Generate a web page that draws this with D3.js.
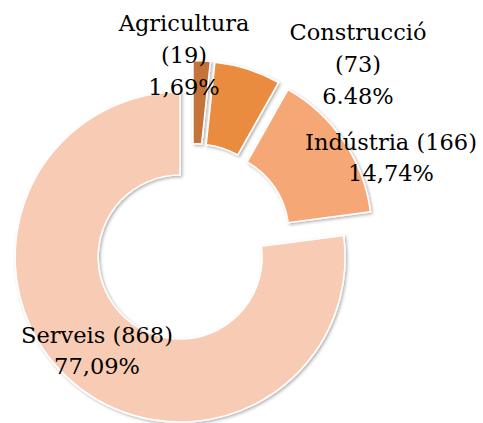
<!DOCTYPE html>
<html><head><meta charset="utf-8">
<script src="https://cdn.jsdelivr.net/npm/d3@7"></script>
<style>body{margin:0;background:#fff}svg{display:block}</style>
</head><body>
<script>
const categories = ["Agricultura", "Construcció", "Indústria", "Serveis"];
const values = [19, 73, 166, 868];
const percentLabels = ["1,69%", "6.48%", "14,74%", "77,09%"];
const colors = ["#C5733A", "#E98C3F", "#F5A876", "#F8CBB4"];

// label lines per slice
const labelLines = [
  [categories[0], `(${values[0]})`, percentLabels[0]],
  [categories[1], `(${values[1]})`, percentLabels[1]],
  [`${categories[2]} (${values[2]})`, percentLabels[2]],
  [`${categories[3]} (${values[3]})`, percentLabels[3]]
];
// label centre positions relative to chart centre (layout only)
const labelOffsets = [[-8, -189], [166, -180], [199, -86], [-95, 107]];

const W = 483, H = 423;
const cx = 192, cy = 243.5, R = 165, r = 82, explode = 18;

const svg = d3.select("body").append("svg").attr("width", W).attr("height", H);
const defs = svg.append("defs");
const f = defs.append("filter").attr("id", "sh").attr("x", "-20%").attr("y", "-20%").attr("width", "140%").attr("height", "140%");
f.append("feDropShadow").attr("dx", 1.5).attr("dy", 1.5).attr("stdDeviation", 1.5).attr("flood-color", "#000").attr("flood-opacity", 0.3);

const pie = d3.pie().sort(null).value(d => d)(values);
const arc = d3.arc().innerRadius(r).outerRadius(R);
const g = svg.append("g").attr("transform", `translate(${cx},${cy})`);

g.selectAll("path").data(pie).join("path")
  .attr("d", arc)
  .attr("fill", (d, i) => colors[i])
  .attr("stroke", "#fff").attr("stroke-width", 1.5)
  .attr("filter", "url(#sh)")
  .attr("transform", d => {
    const a = (d.startAngle + d.endAngle) / 2;
    return `translate(${explode * Math.sin(a)},${-explode * Math.cos(a)})`;
  });

const lh = 32;
labelLines.forEach((lines, i) => {
  const [dx, dy] = labelOffsets[i];
  const lhh = lines.length === 3 ? lh : 31;
  const t = g.append("text")
    .attr("x", dx).attr("y", dy - (lines.length - 1) * lhh / 2)
    .attr("text-anchor", "middle").attr("dominant-baseline", "central")
    .attr("font-family", "'DejaVu Serif', serif").attr("font-size", 22.5).attr("fill", "#000");
  lines.forEach((l, j) => {
    t.append("tspan").attr("x", dx).attr("dy", j === 0 ? 0 : lhh).text(l);
  });
});
</script>
</body></html>
